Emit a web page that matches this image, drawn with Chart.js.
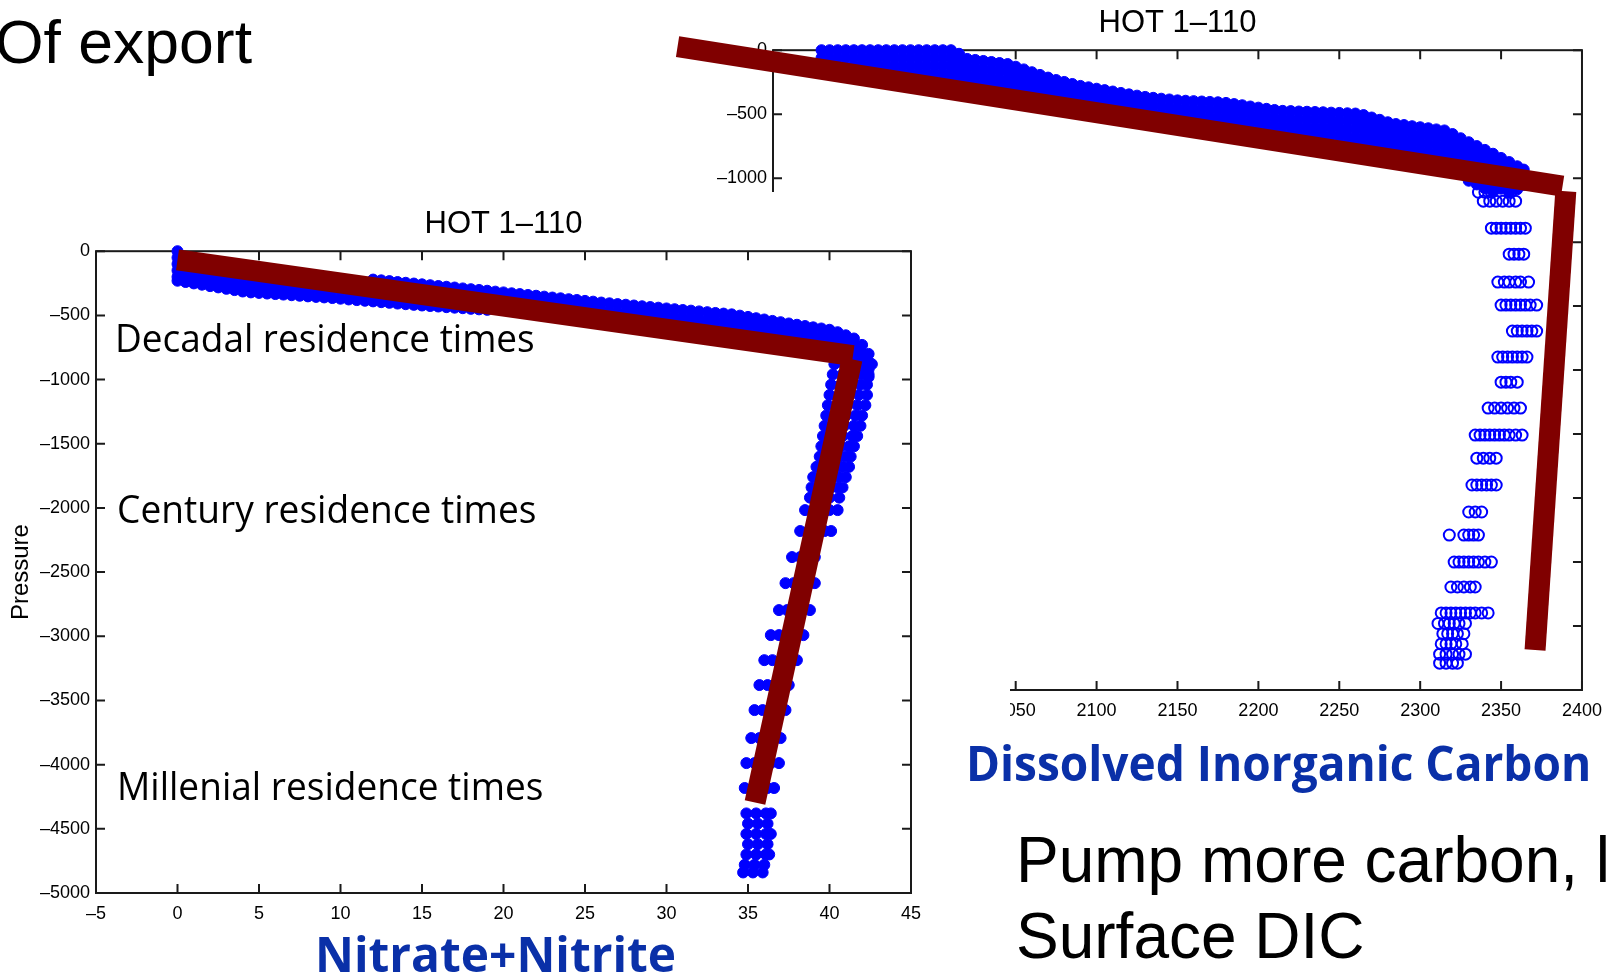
<!DOCTYPE html>
<html>
<head>
<meta charset="utf-8">
<script src="https://cdn.jsdelivr.net/npm/chart.js@4.4.1/dist/chart.umd.min.js"></script>
<style>
  body { margin: 0; width: 1612px; height: 976px; overflow: hidden; background: #fff; position: relative; }
  canvas { position: absolute; }
  #dicChart { left: 600px; top: 0; z-index: 1; }
  #no3Chart { left: 0; top: 192px; z-index: 2; background: #fff; }
  .txt { position: absolute; white-space: nowrap; line-height: 1; z-index: 3; transform-origin: 0 0; }
  .slide { font-family: 'Liberation Sans', Arial, sans-serif; font-size: 64px; color: #000; }
  .axisname { font-family: 'Open Sans', sans-serif; font-weight: 700; font-size: 48px; color: #0a30a8; }
  .note { font-family: 'Open Sans', sans-serif; font-size: 38px; color: #000; }
</style>
</head>
<body>
<canvas id="dicChart" width="1012" height="760"></canvas>
<canvas id="no3Chart" width="1010" height="784"></canvas>

<div class="txt slide" data-x="-5" data-base="63" data-w="257" style="font-size:62px">Of export</div>
<div class="txt slide" data-x="1016" data-base="882">Pump more carbon, lower</div>
<div class="txt slide" data-x="1016" data-base="958">Surface DIC</div>
<div class="txt axisname" data-x="966" data-base="781" data-w="625">Dissolved Inorganic Carbon</div>
<div class="txt axisname" data-x="315" data-base="972" data-w="361">Nitrate+Nitrite</div>
<div class="txt note" data-x="115" data-base="352" data-w="420">Decadal residence times</div>
<div class="txt note" data-x="117" data-base="523" data-w="420">Century residence times</div>
<div class="txt note" data-x="117" data-base="800" data-w="426">Millenial residence times</div>

<script>
// Nitrate+nitrite, upper ocean: pressures read at each nitrate value
const no3UpperX = [0, 0.5, 1, 1.5, 2, 2.5, 3, 3.5, 4, 4.5, 5, 5.5, 6, 6.5, 7, 7.5, 8, 8.5, 9, 9.5,
  10, 10.5, 11, 11.5, 12, 12.5, 13, 13.5, 14, 14.5, 15, 15.5, 16, 16.5, 17, 17.5, 18, 18.5, 19, 19.5,
  20, 20.5, 21, 21.5, 22, 22.5, 23, 23.5, 24, 24.5, 25, 25.5, 26, 26.5, 27, 27.5, 28, 28.5, 29, 29.5,
  30, 30.5, 31, 31.5, 32, 32.5, 33, 33.5, 34, 34.5, 35, 35.5, 36, 36.5, 37, 37.5, 38, 38.5, 39, 39.5,
  40, 40.5, 41, 41.5, 42, 42.4];
const no3UpperP = [
  [0, -50, -100, -150, -200, -230], [-77, -137, -197, -240], [-86, -146, -206, -251], [-95, -155, -215, -261],
  [-104, -164, -224, -272], [-113, -173, -233, -282], [-122, -182, -242, -293], [-131, -191, -251, -303],
  [-140, -200, -260, -314], [-149, -209, -269, -321], [-158, -218, -278, -325], [-167, -227, -287, -330],
  [-176, -236, -296, -334], [-185, -245, -305, -338], [-194, -254, -314, -343], [-203, -263, -323, -347],
  [-212, -272, -332, -352], [-221, -281, -341, -356], [-230, -290, -340, -360], [-239, -299, -365],
  [-248, -308, -370], [-257, -317, -376], [-266, -326, -381], [-275, -335, -386],
  [-221, -281, -341, -391], [-227, -287, -347, -397], [-233, -293, -353, -402], [-240, -300, -360, -408],
  [-246, -306, -366, -413], [-252, -312, -372, -418], [-258, -318, -378, -423], [-265, -325, -385, -427],
  [-271, -331, -391, -431], [-277, -337, -397, -436], [-283, -343, -403, -440], [-290, -350, -410, -444],
  [-296, -356, -416, -449], [-302, -362, -422, -453], [-308, -368, -428, -457], [-315, -375, -419],
  [-321, -381, -428], [-328, -388, -437], [-334, -394, -446], [-341, -401, -455],
  [-347, -407, -464], [-354, -414, -473], [-361, -421, -482], [-367, -427, -491],
  [-374, -434, -500], [-380, -440, -509], [-387, -447, -518], [-393, -453, -527],
  [-400, -460, -536], [-406, -466, -530], [-412, -472, -532], [-417, -477, -537],
  [-423, -483, -543], [-429, -489, -549], [-435, -495, -555], [-440, -500, -560],
  [-446, -506, -566], [-452, -512, -572], [-458, -518, -578], [-463, -523, -583],
  [-469, -529, -589], [-475, -535, -595], [-481, -541, -601], [-486, -546, -606],
  [-492, -552, -612], [-502, -562, -622], [-512, -572, -632], [-522, -582, -642],
  [-532, -592, -652], [-543, -603, -663], [-553, -613, -673], [-563, -623, -683],
  [-573, -633, -693], [-583, -643, -703], [-593, -653, -713], [-602, -662, -722],
  [-612, -672, -732, -792], [-631, -691, -751, -811], [-655, -715, -775, -835], [-680, -740, -800, -860],
  [-730, -790, -850, -910], [-800, -860, -920, -980]
];

// Nitrate+nitrite, deep ocean: values read at each pressure level
const no3DeepP = [-880, -960, -1040, -1120, -1200, -1280, -1360, -1440, -1520, -1600, -1680, -1760, -1840, -1920,
  -2017, -2180, -2383, -2586, -2796, -2991, -3186, -3380, -3575, -3793, -3988, -4182,
  -4380, -4460, -4540, -4620, -4700, -4780, -4840];
const no3DeepX = [
  [40.3, 40.9, 41.5, 42.1, 42.6],
  [40.2, 40.8, 41.4, 42.0, 42.4],
  [40.1, 40.7, 41.3, 41.9, 42.3],
  [40.0, 40.6, 41.2, 41.8, 42.3],
  [39.9, 40.5, 41.1, 41.7, 42.2],
  [39.8, 40.4, 41.0, 41.6, 42.0],
  [39.7, 40.3, 40.9, 41.5, 41.9],
  [39.6, 40.2, 40.8, 41.4, 41.7],
  [39.5, 40.1, 40.7, 41.2, 41.5],
  [39.4, 40.0, 40.6, 41.0, 41.3],
  [39.2, 39.8, 40.4, 40.8, 41.2],
  [39.0, 39.6, 40.2, 40.6, 41.0],
  [38.9, 39.5, 40.1, 40.5, 40.8],
  [38.8, 39.4, 40.0, 40.6],
  [38.5, 39.0, 39.5, 40.0, 40.5],
  [38.2, 38.7, 39.2, 39.7, 40.1],
  [37.7, 38.2, 38.7, 39.1],
  [37.3, 37.8, 38.3, 38.8, 39.1],
  [36.9, 37.4, 37.9, 38.4, 38.8],
  [36.4, 36.9, 37.4, 37.9, 38.4],
  [36.0, 36.5, 37.0, 37.5, 38.0],
  [35.7, 36.2, 36.7, 37.2, 37.5],
  [35.4, 35.9, 36.4, 36.9, 37.3],
  [35.2, 35.7, 36.2, 36.6, 37.0],
  [34.9, 35.4, 35.9, 36.4, 36.9],
  [34.8, 35.3, 35.8, 36.2, 36.6],
  [34.9, 35.5, 36.1, 36.4],
  [35.0, 35.6, 36.2],
  [34.9, 35.5, 36.1, 36.4],
  [35.0, 35.6, 36.2],
  [34.9, 35.5, 36.1, 36.3],
  [34.8, 35.4, 36.0],
  [34.7, 35.3, 35.9]
];

// DIC, upper ocean: pressures read at each DIC value
const dicUpperX = [1930, 1935, 1940, 1945, 1950, 1955, 1960, 1965, 1970, 1975, 1980, 1985, 1990, 1995,
  2000, 2005, 2010, 2015, 2020, 2025, 2030, 2035, 2040, 2045, 2050, 2055, 2060, 2065, 2070, 2075,
  2080, 2085, 2090, 2095, 2100, 2105, 2110, 2115, 2120, 2125, 2130, 2135, 2140, 2145, 2150, 2155,
  2160, 2165, 2170, 2175, 2180, 2185, 2190, 2195, 2200, 2205, 2210, 2215, 2220, 2225, 2230, 2235,
  2240, 2245, 2250, 2255, 2260, 2265, 2270, 2275, 2280, 2285, 2290, 2295, 2300, 2305, 2310, 2315,
  2320, 2325, 2330, 2335, 2340, 2345, 2350, 2355, 2360, 2364];
const dicUpperP = [
  [0, -60, -120], [0, -60, -130], [0, -60, -140], [0, -60, -150], [0, -60, -120, -160],
  [0, -60, -120, -170], [0, -60, -120, -180], [0, -60, -120, -190], [0, -60, -120, -200],
  [0, -60, -120, -180, -210], [0, -60, -120, -180, -220], [0, -60, -120, -180, -230],
  [0, -60, -120, -180, -240], [0, -60, -120, -180, -250], [0, -60, -120, -180, -260],
  [0, -60, -120, -180, -240, -270], [0, -60, -120, -180, -240, -280],
  [-28, -88, -148, -208, -290], [-68, -128, -188, -248, -300], [-76, -136, -196, -256, -310],
  [-84, -144, -204, -264, -320], [-92, -152, -212, -272, -330], [-100, -160, -220, -280, -340],
  [-108, -168, -228, -288, -350], [-129, -189, -249, -309, -360], [-150, -210, -270, -330, -370],
  [-172, -232, -292, -352, -380], [-193, -253, -313, -373, -390], [-214, -274, -334, -400],
  [-233, -293, -353, -410], [-248, -308, -368, -420], [-264, -324, -384, -430],
  [-279, -339, -399, -440], [-290, -350, -410, -450], [-301, -361, -421, -460],
  [-312, -372, -432, -470], [-323, -383, -443, -480], [-334, -394, -454, -490],
  [-345, -405, -465, -500], [-355, -415, -475, -510], [-365, -425, -485, -520],
  [-372, -432, -492, -530], [-379, -439, -499, -540], [-385, -445, -505, -550],
  [-392, -452, -512, -560], [-395, -455, -515, -570], [-398, -458, -518, -580],
  [-401, -461, -521, -590], [-404, -464, -524, -584, -600], [-407, -467, -527, -587, -610],
  [-412, -472, -532, -592, -620], [-421, -481, -541, -601, -630], [-430, -490, -550, -610, -640],
  [-440, -500, -560, -620, -650], [-449, -509, -569, -629, -660], [-458, -518, -578, -638, -670],
  [-467, -527, -587, -647, -680], [-474, -534, -594, -654, -690], [-476, -536, -596, -656, -700],
  [-479, -539, -599, -659, -710], [-481, -541, -601, -661, -720], [-483, -543, -603, -663, -730],
  [-485, -545, -605, -665, -740], [-488, -548, -608, -668, -750], [-490, -550, -610, -670, -730, -760],
  [-493, -553, -613, -673, -733, -770], [-495, -555, -615, -675, -735, -780],
  [-507, -567, -627, -687, -747, -790], [-526, -586, -646, -706, -766, -800],
  [-544, -604, -664, -724, -784, -810], [-563, -623, -683, -743, -820],
  [-577, -637, -697, -757, -830], [-585, -645, -705, -765, -840], [-594, -654, -714, -774, -850],
  [-602, -662, -722, -782, -860], [-610, -670, -730, -790, -870], [-619, -679, -739, -799, -880],
  [-627, -687, -747, -807, -890], [-655, -715, -775, -835, -900], [-688, -748, -808, -868, -910],
  [-719, -779, -839, -899, -960, -1020], [-749, -809, -869, -929, -989, -1049],
  [-779, -839, -899, -959, -1019, -1079], [-809, -869, -929, -989, -1049, -1109],
  [-842, -902, -962, -1022, -1082], [-874, -934, -994, -1054, -1114],
  [-907, -967, -1027, -1087], [-933, -993, -1053]
];

// DIC, deep bottle depths: values read at each pressure
const dicDeepP = [-1110, -1180, -1391, -1594, -1812, -1992, -2195, -2398, -2594, -2797, -3008,
  -3188, -3398, -3609, -3789, -4000, -4195, -4398, -4480, -4560, -4640, -4720, -4790];
const dicDeepX = [
  [2336, 2340, 2344, 2356],
  [2339, 2343, 2347, 2351, 2355, 2359],
  [2344, 2347, 2350, 2353, 2356, 2359, 2362, 2365],
  [2355, 2358, 2361, 2364],
  [2348, 2352, 2355, 2359, 2362, 2367],
  [2350, 2353, 2356, 2359, 2362, 2365, 2368, 2372],
  [2357, 2360, 2363, 2366, 2369, 2372],
  [2348, 2351, 2354, 2357, 2360, 2363, 2366],
  [2350, 2353, 2356, 2360],
  [2342, 2346, 2350, 2354, 2358, 2362],
  [2334, 2337, 2340, 2343, 2346, 2349, 2352, 2355, 2359, 2363],
  [2335, 2339, 2343, 2347],
  [2332, 2335, 2338, 2341, 2344, 2347],
  [2330, 2334, 2338],
  [2318, 2327, 2330, 2333, 2336],
  [2321, 2324, 2327, 2330, 2333, 2336, 2340, 2344],
  [2319, 2323, 2327, 2331, 2334],
  [2313, 2316, 2319, 2322, 2325, 2328, 2331, 2334, 2338, 2342],
  [2311, 2315, 2318, 2321, 2324, 2328],
  [2314, 2317, 2320, 2323, 2327],
  [2313, 2316, 2319, 2322, 2326],
  [2312, 2316, 2320, 2324, 2328],
  [2312, 2316, 2320, 2323]
];

// hand-drawn two-slope guides over each profile
const no3BendX = [0, 41.44];
const no3BendP = [-68, -814];
const no3SteepX = [41.38, 35.43];
const no3SteepP = [-841, -4295];
const dicBendX = [1841, 2388];
const dicBendP = [27, -1062];
const dicSteepX = [2390, 2371];
const dicSteepP = [-1102, -4688];

// axis ticks
const no3Ticks = [-5, 0, 5, 10, 15, 20, 25, 30, 35, 40, 45];
const dicTicks = [1900, 1950, 2000, 2050, 2100, 2150, 2200, 2250, 2300, 2350, 2400];
const pressureTicks = [0, -500, -1000, -1500, -2000, -2500, -3000, -3500, -4000, -4500, -5000];

const byColumn = (xs, cols) => cols.flatMap((ps, i) => ps.map(p => ({ x: xs[i], y: p })));
const byRow = (ps, rows) => rows.flatMap((xs, i) => xs.map(x => ({ x, y: ps[i] })));
const toLine = (xs, ps) => xs.map((x, i) => ({ x, y: ps[i] }));
const dashLabel = v => (v < 0 ? '\u2013' + Math.abs(v) : String(v));

const FONT = "'Liberation Sans', Arial, sans-serif";
const tickFont = { family: FONT, size: 18 };
const BLUE = '#0000ff';
const BAND = '#800000';

// closed box with inward tick marks on all four sides
const boxTicks = {
  id: 'boxTicks',
  beforeDatasetsDraw(chart) {
    const { ctx, chartArea: a, scales: { x, y } } = chart;
    const len = 9;
    ctx.save();
    ctx.strokeStyle = '#1a1a1a';
    ctx.lineWidth = 2;
    ctx.strokeRect(a.left, a.top, a.right - a.left, a.bottom - a.top);
    ctx.beginPath();
    x.ticks.forEach(t => {
      const px = x.getPixelForValue(t.value);
      ctx.moveTo(px, a.bottom); ctx.lineTo(px, a.bottom - len);
      ctx.moveTo(px, a.top); ctx.lineTo(px, a.top + len);
    });
    y.ticks.forEach(t => {
      const py = y.getPixelForValue(t.value);
      ctx.moveTo(a.left, py); ctx.lineTo(a.left + len, py);
      ctx.moveTo(a.right, py); ctx.lineTo(a.right - len, py);
    });
    ctx.stroke();
    ctx.restore();
  }
};

function guide(data) {
  return {
    data, showLine: true, borderColor: BAND, borderWidth: 21, borderCapStyle: 'butt',
    pointRadius: 0, tension: 0, clip: false, order: 0
  };
}

function cloud(data, filled) {
  return {
    data, showLine: false, clip: false, order: 1,
    pointRadius: 5.5,
    pointBorderWidth: filled ? 1 : 2,
    pointBackgroundColor: filled ? BLUE : 'rgba(0,0,0,0)',
    pointBorderColor: BLUE
  };
}

function axes(xMin, xMax, xTicks, yWidth, yTitle) {
  return {
    x: {
      type: 'linear', min: xMin, max: xMax,
      grid: { display: false, drawTicks: false }, border: { display: false },
      afterBuildTicks: s => { s.ticks = xTicks.map(value => ({ value })); },
      afterFit: s => { s.height = 30; },
      ticks: { font: tickFont, color: '#000', padding: 10, maxRotation: 0, autoSkip: false, callback: dashLabel }
    },
    y: {
      type: 'linear', min: -5000, max: 0,
      grid: { display: false, drawTicks: false }, border: { display: false },
      afterBuildTicks: s => { s.ticks = pressureTicks.map(value => ({ value })); },
      afterFit: s => { s.width = yWidth; },
      ticks: { font: tickFont, color: '#000', padding: 6, autoSkip: false, callback: dashLabel },
      title: {
        display: !!yTitle, text: yTitle || '', color: '#000',
        font: { family: FONT, size: 24 },
        padding: { top: 7, bottom: 0 }
      }
    }
  };
}

function titleOpts(top) {
  return {
    display: true, text: 'HOT 1\u2013110', color: '#000', fullSize: false,
    font: { family: FONT, size: 31, weight: 'normal' },
    padding: { top, bottom: 8 }
  };
}

const common = { responsive: false, animation: false, devicePixelRatio: 1, events: [] };

new Chart(document.getElementById('dicChart'), {
  type: 'scatter',
  data: {
    datasets: [
      guide(toLine(dicBendX, dicBendP)),
      guide(toLine(dicSteepX, dicSteepP)),
      cloud(byColumn(dicUpperX, dicUpperP), true),
      cloud(byRow(dicDeepP, dicDeepX), false)
    ]
  },
  options: {
    ...common,
    layout: { padding: { top: 0, left: 0, right: 24, bottom: 40 } },
    scales: axes(1900, 2400, dicTicks, 173, null),
    plugins: { legend: { display: false }, tooltip: { enabled: false }, title: titleOpts(5) }
  },
  plugins: [boxTicks]
});

new Chart(document.getElementById('no3Chart'), {
  type: 'scatter',
  data: {
    datasets: [
      guide(toLine(no3BendX, no3BendP)),
      guide(toLine(no3SteepX, no3SteepP)),
      cloud(byColumn(no3UpperX, no3UpperP), true),
      cloud(byRow(no3DeepP, no3DeepX), true)
    ]
  },
  options: {
    ...common,
    layout: { padding: { top: 0, left: 0, right: 99, bottom: 53 } },
    scales: axes(-5, 45, no3Ticks, 96, 'Pressure'),
    plugins: { legend: { display: false }, tooltip: { enabled: false }, title: titleOpts(14) }
  },
  plugins: [boxTicks]
});

// slide text: put each baseline where it belongs and squeeze to its width
document.querySelectorAll('.txt').forEach(el => {
  const probe = document.createElement('span');
  probe.style.cssText = 'display:inline-block;width:0;height:0;';
  el.appendChild(probe);
  const base = probe.offsetTop;
  el.style.left = el.dataset.x + 'px';
  el.style.top = (Number(el.dataset.base) - base) + 'px';
  if (el.dataset.w) {
    el.style.transform = 'scaleX(' + (Number(el.dataset.w) / el.offsetWidth) + ')';
  }
});
</script>
</body>
</html>
